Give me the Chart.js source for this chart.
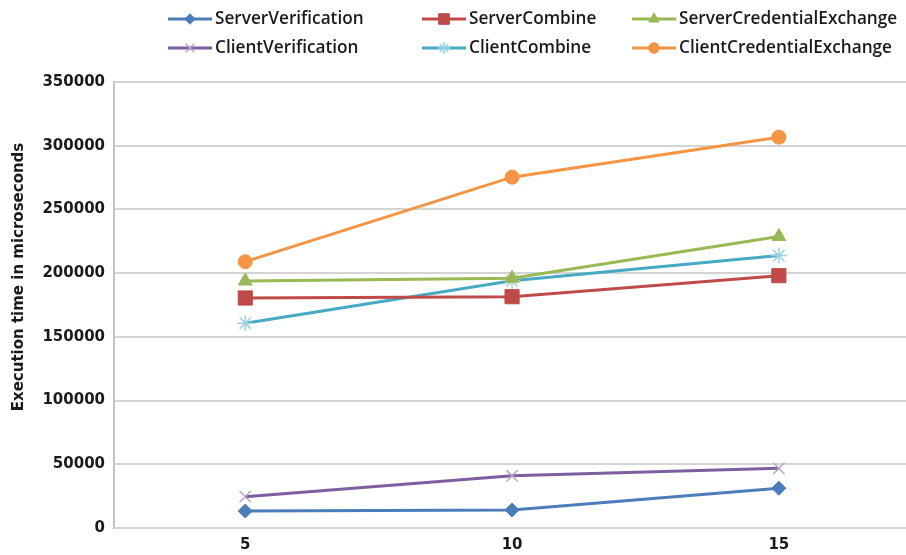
<!DOCTYPE html>
<html>
<head>
<meta charset="utf-8">
<script src="https://cdn.jsdelivr.net/npm/chart.js@4.4.1/dist/chart.umd.min.js"></script>
<style>
  html, body { margin: 0; padding: 0; background: #ffffff; overflow: hidden; }
  #wrap { width: 906px; height: 555px; position: relative; overflow: hidden; }
</style>
</head>
<body>
<div id="wrap"><canvas id="chart" width="919" height="555"></canvas></div>
<script>
// Number of items (x axis)
const categories = [5, 10, 15];

// Execution times in microseconds
const serverVerification       = [13300, 14100, 31200];
const serverCombine            = [180500, 181500, 198000];
const serverCredentialExchange = [193800, 196000, 228700];
const clientVerification       = [24600, 41000, 46800];
const clientCombine            = [160700, 194000, 213800];
const clientCredentialExchange = [209000, 275300, 306700];

const seriesNames = [
  'ServerVerification', 'ServerCombine', 'ServerCredentialExchange',
  'ClientVerification', 'ClientCombine', 'ClientCredentialExchange'
];
const yTicks = [0, 50000, 100000, 150000, 200000, 250000, 300000, 350000];
const yTitle = 'Execution time in microseconds';

const toPoints = vals => categories.map((c, i) => ({ x: c, y: vals[i] }));

function series(label, vals, color, style, radius, pointBorder, pointBorderWidth, filled) {
  return {
    label,
    data: toPoints(vals),
    borderColor: color,
    backgroundColor: color,
    borderWidth: 3,
    pointStyle: style,
    pointRadius: radius,
    pointHoverRadius: radius,
    pointBackgroundColor: filled ? color : 'rgba(0,0,0,0)',
    pointBorderColor: pointBorder,
    pointBorderWidth: pointBorderWidth,
    tension: 0
  };
}

const datasets = [
  series(seriesNames[0], serverVerification,       '#4A7DBA', 'rectRot',  7,  '#4A7DBA', 1, true),
  series(seriesNames[1], serverCombine,            '#BE4B48', 'rect',     10, '#BE4B48', 1, true),
  series(seriesNames[2], serverCredentialExchange, '#98B954', 'triangle', 8,  '#98B954', 1, true),
  series(seriesNames[3], clientVerification,       '#7D5FA0', 'crossRot', 8,  '#B3A6C8', 1.5, false),
  series(seriesNames[4], clientCombine,            '#46AAC5', 'star',     8,  '#9CD3E3', 1.5, false),
  series(seriesNames[5], clientCredentialExchange, '#F59443', 'circle',   7,  '#F59443', 1, true)
];

// Two-row, three-column legend at the top of the canvas
const gridLegend = {
  id: 'gridLegend',
  afterDraw(chart) {
    const ctx = chart.ctx;
    const colX = [168, 422, 632];
    const rowY = [19, 48];
    const lineLen = 44;
    ctx.save();
    chart.data.datasets.forEach((ds, i) => {
      const x = colX[i % 3];
      const y = rowY[Math.floor(i / 3)];
      ctx.strokeStyle = ds.borderColor;
      ctx.lineWidth = 3;
      ctx.beginPath();
      ctx.moveTo(x, y);
      ctx.lineTo(x + lineLen, y);
      ctx.stroke();
      ctx.fillStyle = ds.pointBackgroundColor;
      ctx.strokeStyle = ds.pointBorderColor;
      ctx.lineWidth = ds.pointBorderWidth;
      Chart.helpers.drawPoint(ctx, {
        pointStyle: ds.pointStyle,
        radius: ds.pointRadius * 0.75,
        rotation: 0,
        borderWidth: ds.pointBorderWidth
      }, x + lineLen / 2, y);
      ctx.fillStyle = '#1a1a1a';
      ctx.font = '600 17.2px "Open Sans"';
      ctx.textBaseline = 'middle';
      ctx.textAlign = 'left';
      ctx.fillText(ds.label, x + lineLen + 3, y);
    });
    ctx.restore();
  }
};

// Rotated y axis title
const yAxisTitle = {
  id: 'yAxisTitle',
  afterDraw(chart) {
    const ctx = chart.ctx;
    ctx.save();
    ctx.translate(19, 277);
    ctx.rotate(-Math.PI / 2);
    ctx.font = 'bold 15px "DejaVu Sans"';
    ctx.fillStyle = '#1a1a1a';
    ctx.textAlign = 'center';
    ctx.textBaseline = 'middle';
    ctx.fillText(yTitle, 0, 0);
    ctx.restore();
  }
};

const whiteBg = {
  id: 'whiteBg',
  beforeDraw(chart) {
    const ctx = chart.ctx;
    ctx.save();
    ctx.fillStyle = '#ffffff';
    ctx.fillRect(0, 0, chart.width, chart.height);
    ctx.restore();
  }
};

new Chart(document.getElementById('chart'), {
  type: 'line',
  data: { datasets },
  plugins: [whiteBg, gridLegend, yAxisTitle],
  options: {
    responsive: false,
    animation: false,
    layout: { padding: { top: 82, left: 0, right: 0, bottom: 0 } },
    plugins: {
      legend: { display: false },
      tooltip: { enabled: false },
      title: { display: false }
    },
    scales: {
      x: {
        type: 'linear',
        min: 2.54,
        max: 17.42,
        afterBuildTicks(scale) {
          scale.ticks = categories.map(v => ({ value: v }));
        },
        afterFit(scale) { scale.height = 27; },
        grid: { display: false, drawTicks: false },
        border: { display: false },
        ticks: {
          padding: 8,
          color: '#1a1a1a',
          font: { family: 'DejaVu Sans', size: 15, weight: 'bold' },
          callback: v => String(v)
        }
      },
      y: {
        min: 0,
        max: 350000,
        afterBuildTicks(scale) {
          scale.ticks = yTicks.map(v => ({ value: v }));
        },
        afterFit(scale) { scale.width = 114; },
        grid: { color: '#d4d4d4', lineWidth: 2, drawTicks: false },
        border: { display: true, color: '#c4c4c4', width: 2 },
        ticks: {
          padding: 9,
          color: '#1a1a1a',
          font: { family: 'DejaVu Sans', size: 15, weight: 'bold' },
          callback: v => String(v)
        }
      }
    }
  }
});
</script>
</body>
</html>
